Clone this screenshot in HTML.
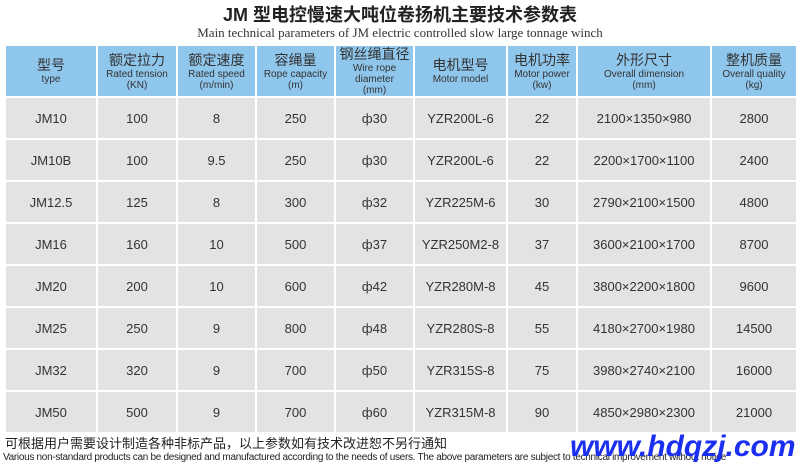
<!DOCTYPE html>
<html><head><meta charset="utf-8"><style>
body{margin:0;width:800px;height:467px;background:#fff;position:relative;overflow:hidden;font-family:"Liberation Sans","Noto Sans CJK SC",sans-serif;color:#333}
.t1{position:absolute;top:1px;left:0;width:800px;text-align:center;font-size:18px;font-weight:bold;color:#222}
.t2{position:absolute;top:25px;left:0;width:800px;text-align:center;font-family:"Liberation Serif",serif;font-size:13px;color:#333}
table{position:absolute;left:4px;top:44px;border-collapse:collapse}
td{border:2px solid #fff;text-align:center;padding:0;font-size:13px;color:#333}
tr.h td{background:#8fc6ec;height:48px;line-height:11px;font-size:10px;color:#333}
tr.h td b{font-weight:normal;font-size:14px;display:block;line-height:17px}
tr.r td{background:#e3e3e3;height:40px}
.n1{position:absolute;left:5px;top:433px;font-size:13px;color:#222}
.n2{position:absolute;left:3px;top:452px;font-size:10px;color:#222;letter-spacing:-0.3px;white-space:nowrap}
.wm{position:absolute;left:570px;top:430px;font-size:30px;font-weight:bold;font-style:italic;color:#1a2ff0;white-space:nowrap}
</style></head><body>
<div class="t1">JM 型电控慢速大吨位卷扬机主要技术参数表</div>
<div class="t2">Main technical parameters of JM electric controlled slow large tonnage winch</div>
<table>
<colgroup><col style="width:92px"><col style="width:80px"><col style="width:79px"><col style="width:79px"><col style="width:79px"><col style="width:93px"><col style="width:70px"><col style="width:134px"><col style="width:86px"></colgroup>
<tr class="h"><td><b>型号</b>type</td><td><b>额定拉力</b>Rated tension<br>(KN)</td><td><b>额定速度</b>Rated speed<br>(m/min)</td><td><b>容绳量</b>Rope capacity<br>(m)</td><td><b>钢丝绳直径</b>Wire rope<br>diameter<br>(mm)</td><td><b>电机型号</b>Motor model</td><td><b>电机功率</b>Motor power<br>(kw)</td><td><b>外形尺寸</b>Overall dimension<br>(mm)</td><td><b>整机质量</b>Overall quality<br>(kg)</td></tr>
<tr class="r"><td>JM10</td><td>100</td><td>8</td><td>250</td><td>ф30</td><td>YZR200L-6</td><td>22</td><td>2100×1350×980</td><td>2800</td></tr>
<tr class="r"><td>JM10B</td><td>100</td><td>9.5</td><td>250</td><td>ф30</td><td>YZR200L-6</td><td>22</td><td>2200×1700×1100</td><td>2400</td></tr>
<tr class="r"><td>JM12.5</td><td>125</td><td>8</td><td>300</td><td>ф32</td><td>YZR225M-6</td><td>30</td><td>2790×2100×1500</td><td>4800</td></tr>
<tr class="r"><td>JM16</td><td>160</td><td>10</td><td>500</td><td>ф37</td><td>YZR250M2-8</td><td>37</td><td>3600×2100×1700</td><td>8700</td></tr>
<tr class="r"><td>JM20</td><td>200</td><td>10</td><td>600</td><td>ф42</td><td>YZR280M-8</td><td>45</td><td>3800×2200×1800</td><td>9600</td></tr>
<tr class="r"><td>JM25</td><td>250</td><td>9</td><td>800</td><td>ф48</td><td>YZR280S-8</td><td>55</td><td>4180×2700×1980</td><td>14500</td></tr>
<tr class="r"><td>JM32</td><td>320</td><td>9</td><td>700</td><td>ф50</td><td>YZR315S-8</td><td>75</td><td>3980×2740×2100</td><td>16000</td></tr>
<tr class="r"><td>JM50</td><td>500</td><td>9</td><td>700</td><td>ф60</td><td>YZR315M-8</td><td>90</td><td>4850×2980×2300</td><td>21000</td></tr>
</table>
<div class="n1">可根据用户需要设计制造各种非标产品，以上参数如有技术改进恕不另行通知</div>
<div class="n2">Various non-standard products can be designed and manufactured according to the needs of users. The above parameters are subject to technical improvement without notice</div>
<div class="wm">www.hdqzj.com</div>
</body></html>
